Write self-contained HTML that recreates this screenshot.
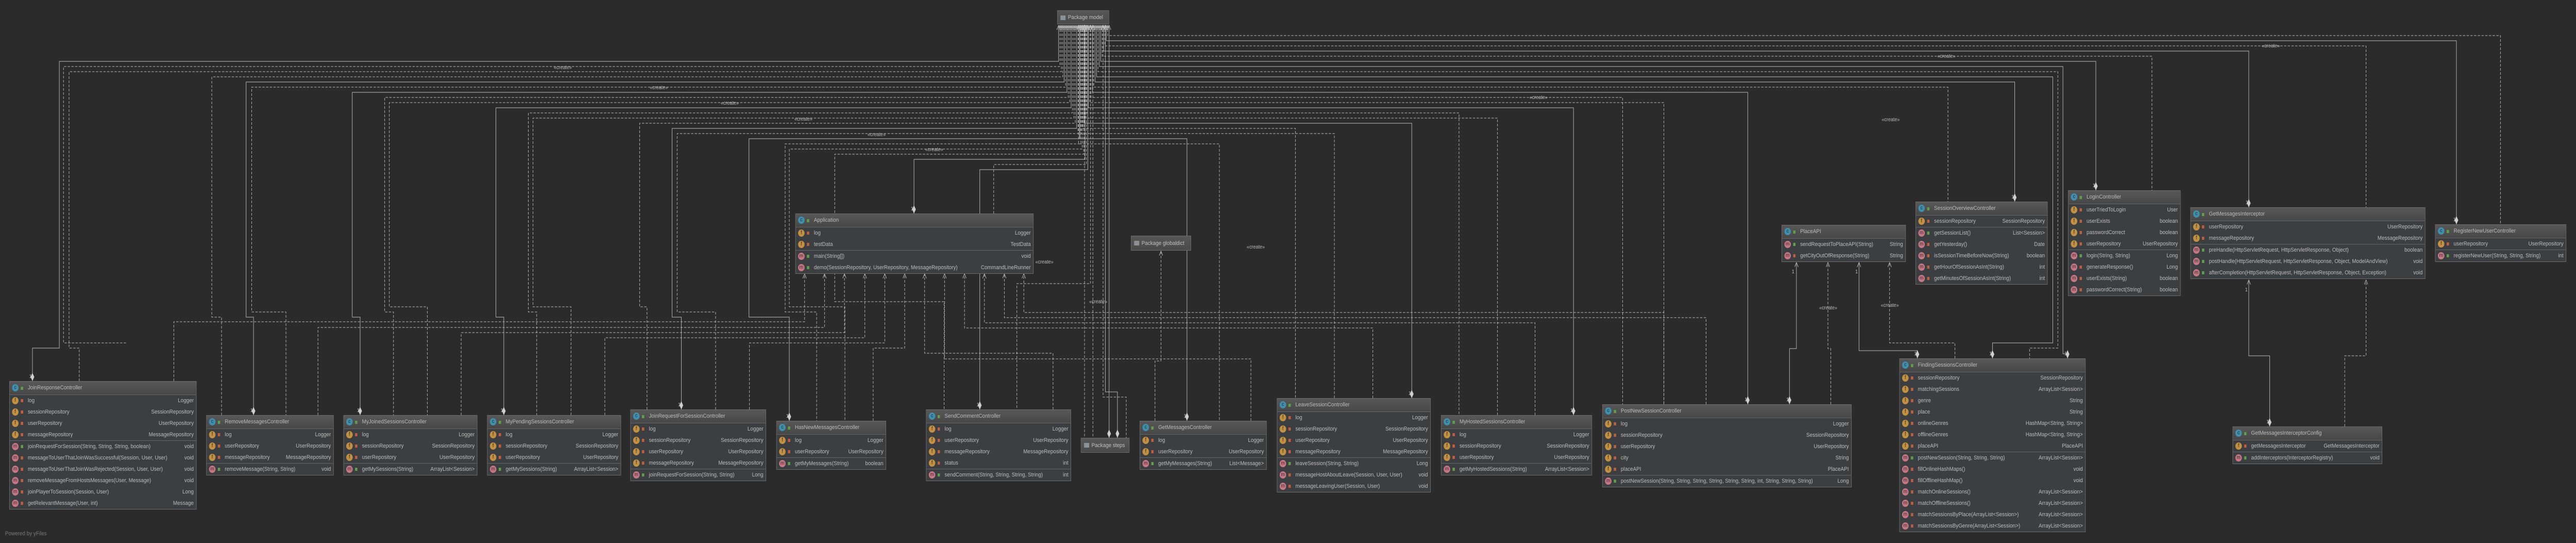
<!DOCTYPE html>
<html><head><meta charset="utf-8">
<style>
html,body{margin:0;padding:0;background:#2b2b2b;width:100vw;height:100vh;overflow:hidden;}
svg.outer{position:fixed;left:0;top:0;width:100vw;height:100vh;display:block;}
#root{position:relative;width:5558px;height:1053px;overflow:hidden;font-family:"Liberation Sans",sans-serif;background:#2b2b2b;}
svg.w{position:absolute;left:0;top:0;}
.b{position:absolute;background:#3c3f41;border:1px solid #6b6b6b;box-sizing:border-box;font-size:11px;color:#bbbbbb;overflow:hidden;}
.h{height:25px;line-height:25px;background:linear-gradient(#585858,#474747);border-bottom:1px solid #666;position:relative;padding-left:39px;white-space:nowrap;}
.s{border-bottom:1px solid #666;}
.s:last-child{border-bottom:none;}
.r{height:22px;line-height:22px;position:relative;padding-left:39px;white-space:nowrap;overflow:hidden;}
.t{position:absolute;right:5px;top:0;background:#3c3f41;padding-left:4px;}
.i{position:absolute;left:5px;top:4px;width:14px;height:14px;border-radius:50%;font-size:10px;line-height:14px;text-align:center;color:#2b2b2b;}
.h .i{top:5px;}
.c{background:#3f8fae;}.f{background:#c2903f;}.m{background:#c87684;}
.l{position:absolute;left:24px;top:8px;width:5px;height:6px;background:#c35d3c;}
.h .l{top:10px;}
.p{background:#5e9f48;}
.pk{position:absolute;background:linear-gradient(#575757,#4a4a4a);border:1px solid #6b6b6b;box-sizing:border-box;color:#c0c0c0;font-size:11px;white-space:nowrap;padding-left:22px;overflow:hidden;}
.pk:before{content:"";position:absolute;left:6px;top:9px;width:11px;height:9px;background:#8a9298;}
.cr{font-size:10px;fill:#bbbbbb;font-family:"Liberation Sans",sans-serif;}
</style></head><body>
<svg class="outer" viewBox="0 0 5558 1053" preserveAspectRatio="none" xmlns="http://www.w3.org/2000/svg">
<foreignObject x="0" y="0" width="5558" height="1053">
<div xmlns="http://www.w3.org/1999/xhtml" id="root">
<svg class="w" width="5558" height="1053" xmlns="http://www.w3.org/2000/svg">
<defs>
<marker id="a" viewBox="0 0 10 8" refX="9" refY="4" markerWidth="10" markerHeight="8" markerUnits="userSpaceOnUse" orient="auto-start-reverse"><path d="M0,0 L9,4 L0,8" fill="none" stroke="#bdbdbd" stroke-width="1"/></marker>
<marker id="d" viewBox="0 0 16 8" refX="16" refY="4" markerWidth="16" markerHeight="8" markerUnits="userSpaceOnUse" orient="auto"><path d="M0,4 L8,0 L16,4 L8,8Z" fill="#cfcfcf"/></marker>
<marker id="ds" viewBox="0 0 16 8" refX="0" refY="4" markerWidth="16" markerHeight="8" markerUnits="userSpaceOnUse" orient="auto"><path d="M0,4 L8,0 L16,4 L8,8Z" fill="#cfcfcf"/></marker>
</defs>
<g fill="none" stroke="#bdbdbd" stroke-width="1">
<g marker-start="url(#a)" marker-end="url(#d)">
<path d="M2284,49 V119 H128 V675 H70 V739"/>
<path d="M2296,49 V159 H531 V615 H547 V805"/>
<path d="M2302,49 V179 H760 V615 H777 V805"/>
<path d="M2311,49 V209 H1070 V615 H1087 V805"/>
<path d="M2323,49 V249 H1450 V615 H1470 V794"/>
<path d="M2329,49 V269 H1616 V615 H1703 V816"/>
<path d="M2341,49 V309 H1972 V414"/>
<path d="M2347,49 V329 H2114 V794"/>
<path d="M2393,49 V849"/>
<path d="M2385,49 V760 H2411 V849"/>
<path d="M2387,49 V79 H5300 V435"/>
<path d="M2381,49 V99 H4852 V402"/>
<path d="M2375,49 V119 H4522 V369"/>
<path d="M2372,49 V129 H4451 V686 H4461 V695"/>
<path d="M2366,49 V149 H4429 V665 H4299 V695"/>
<path d="M2363,49 V159 H4347 V391"/>
<path d="M2357,49 V179 H3771 V784"/>
<path d="M2348,49 V209 H3395 V805"/>
<path d="M2339,49 V239 H3046 V772"/>
<path d="M2330,49 V269 H2561 V816"/>
</g>
<g stroke-dasharray="5,3" marker-start="url(#a)">
<path d="M2287,49 V129 H137 V665 H273"/>
<path d="M2290,49 V139 H149 V675 H171 V739"/>
<path d="M2293,49 V149 H457 V615 H478 V805"/>
<path d="M2299,49 V169 H543 V605 H617 V805"/>
<path d="M2305,49 V189 H830 V605 H849 V805"/>
<path d="M2308,49 V199 H840 V595 H922 V805"/>
<path d="M2314,49 V219 H1140 V605 H1158 V805"/>
<path d="M2317,49 V229 H1150 V595 H1232 V805"/>
<path d="M2320,49 V239 H1380 V595 H1396 V794"/>
<path d="M2326,49 V259 H1461 V605 H1544 V794"/>
<path d="M2332,49 V279 H1694 V605 H1762 V816"/>
<path d="M2335,49 V289 H1703 V595 H1823 V816"/>
<path d="M2338,49 V299 H1801 V585 H2037 V794"/>
<path d="M2344,49 V319 H2144 V414"/>
<path d="M2340,49 V849"/>
<path d="M2358,49 V849"/>
<path d="M2380,49 V770 H2430 V849"/>
<path d="M2353,49 V550 H2194 V794"/>
<path d="M2390,49 V69 H5395 V435"/>
<path d="M2384,49 V89 H5105 V402"/>
<path d="M2378,49 V109 H4643 V369"/>
<path d="M2369,49 V139 H4440 V675 H4379 V695"/>
<path d="M2360,49 V169 H4203 V391"/>
<path d="M2354,49 V189 H3501 V784"/>
<path d="M2351,49 V199 H3590 V784"/>
<path d="M2345,49 V219 H3148 V805"/>
<path d="M2342,49 V229 H3231 V805"/>
<path d="M2336,49 V249 H2795 V772"/>
<path d="M2333,49 V259 H2879 V772"/>
<path d="M2327,49 V279 H2631 V816"/>
</g>
<g stroke-dasharray="5,3" marker-end="url(#a)">
<path d="M375,739 V624 H1736 V531"/>
<path d="M686,805 V635 H1779 V531"/>
<path d="M995,805 V645 H1822 V531"/>
<path d="M1305,805 V655 H1866 V531"/>
<path d="M1617,794 V665 H1909 V531"/>
<path d="M1884,816 V675 H1952 V531"/>
<path d="M2272,794 V685 H1995 V531"/>
<path d="M2699,816 V696 H2038 V531"/>
<path d="M2962,772 V636 H2081 V531"/>
<path d="M3312,805 V626 H2124 V531"/>
<path d="M3681,784 V616 H2167 V531"/>
<path d="M3590,784 V606 H2209 V531"/>
<path d="M2492,816 V700 H2505 V487"/>
<path d="M3950,784 V676 H3944 V509"/>
<path d="M4218,695 V665 H4077 V509"/>
<path d="M5059,827 V690 H5105 V543"/>
</g>
<g marker-start="url(#ds)" marker-end="url(#a)">
<path d="M3861,784 V676 H3876 V509"/>
<path d="M4137,695 V680 H4011 V509"/>
<path d="M4897,827 V690 H4852 V543"/>
</g>
</g>
<g class="cr">
<text x="1195" y="134">«create»</text>
<text x="1402" y="173">«create»</text>
<text x="1555" y="203">«create»</text>
<text x="1714" y="234">«create»</text>
<text x="1872" y="264">«create»</text>
<text x="1996" y="293">«create»</text>
<text x="4880" y="92">«create»</text>
<text x="4180" y="112">«create»</text>
<text x="3300" y="192">«create»</text>
<text x="2690" y="482">«create»</text>
<text x="2234" y="511">«create»</text>
<text x="2350" y="588">«create»</text>
<text x="4058" y="595">«create»</text>
<text x="3925" y="600">«create»</text>
<text x="4060" y="235">«create»</text>
</g>
<g class="cr">
<text x="63" y="733">1</text><text x="540" y="799">1</text><text x="770" y="799">1</text><text x="1080" y="799">1</text>
<text x="1463" y="788">1</text><text x="1696" y="810">1</text><text x="2107" y="788">1</text><text x="2554" y="810">1</text>
<text x="3039" y="766">1</text><text x="3388" y="799">1</text><text x="3764" y="778">1</text><text x="3854" y="778">1</text>
<text x="4130" y="689">1</text><text x="4292" y="689">1</text><text x="4454" y="689">1</text><text x="4890" y="821">1</text>
<text x="4340" y="385">1</text><text x="4515" y="363">1</text><text x="4845" y="396">1</text><text x="5293" y="429">1</text>
<text x="1965" y="408">1</text><text x="3866" y="530">1</text><text x="4003" y="530">1</text><text x="4844" y="565">1</text>
</g>
</svg>

<div class="pk" style="left:2281px;top:20px;width:112px;height:27px;line-height:26px;">Package model</div>
<div class="pk" style="left:2440px;top:457px;width:130px;height:29px;line-height:28px;">Package globaldict</div>
<div class="pk" style="left:2332px;top:849px;width:105px;height:29px;line-height:28px;">Package steps</div>

<div class="b" style="left:1716px;top:414px;width:514px;">
<div class="h"><span class="i c">c</span><span class="l p"></span>Application</div>
<div class="s"><div class="r"><span class="i f">f</span><span class="l"></span>log<span class="t">Logger</span></div><div class="r"><span class="i f">f</span><span class="l"></span>testData<span class="t">TestData</span></div></div>
<div class="s"><div class="r"><span class="i m">m</span><span class="l p"></span>main(String[])<span class="t">void</span></div><div class="r"><span class="i m">m</span><span class="l p"></span>demo(SessionRepository, UserRepository, MessageRepository)<span class="t">CommandLineRunner</span></div></div>
</div>

<div class="b" style="left:20px;top:739px;width:404px;">
<div class="h"><span class="i c">c</span><span class="l p"></span>JoinResponseController</div>
<div class="s">
<div class="r"><span class="i f">f</span><span class="l"></span>log<span class="t">Logger</span></div>
<div class="r"><span class="i f">f</span><span class="l"></span>sessionRepository<span class="t">SessionRepository</span></div>
<div class="r"><span class="i f">f</span><span class="l"></span>userRepository<span class="t">UserRepository</span></div>
<div class="r"><span class="i f">f</span><span class="l"></span>messageRepository<span class="t">MessageRepository</span></div></div>
<div class="s">
<div class="r"><span class="i m">m</span><span class="l p"></span>joinRequestForSession(String, String, String, boolean)<span class="t">void</span></div>
<div class="r"><span class="i m">m</span><span class="l"></span>messageToUserThatJoinWasSuccessful(Session, User, User)<span class="t">void</span></div>
<div class="r"><span class="i m">m</span><span class="l"></span>messageToUserThatJoinWasRejected(Session, User, User)<span class="t">void</span></div>
<div class="r"><span class="i m">m</span><span class="l"></span>removeMessageFromHostsMessages(User, Message)<span class="t">void</span></div>
<div class="r"><span class="i m">m</span><span class="l"></span>joinPlayerToSession(Session, User)<span class="t">Long</span></div>
<div class="r"><span class="i m">m</span><span class="l"></span>getRelevantMessage(User, int)<span class="t">Message</span></div></div>
</div>

<div class="b" style="left:445px;top:805px;width:275px;">
<div class="h"><span class="i c">c</span><span class="l p"></span>RemoveMessagesController</div>
<div class="s">
<div class="r"><span class="i f">f</span><span class="l"></span>log<span class="t">Logger</span></div>
<div class="r"><span class="i f">f</span><span class="l"></span>userRepository<span class="t">UserRepository</span></div>
<div class="r"><span class="i f">f</span><span class="l"></span>messageRepository<span class="t">MessageRepository</span></div></div>
<div class="s"><div class="r"><span class="i m">m</span><span class="l p"></span>removeMessage(String, String)<span class="t">void</span></div></div>
</div>

<div class="b" style="left:741px;top:805px;width:289px;">
<div class="h"><span class="i c">c</span><span class="l p"></span>MyJoinedSessionsController</div>
<div class="s">
<div class="r"><span class="i f">f</span><span class="l"></span>log<span class="t">Logger</span></div>
<div class="r"><span class="i f">f</span><span class="l"></span>sessionRepository<span class="t">SessionRepository</span></div>
<div class="r"><span class="i f">f</span><span class="l"></span>userRepository<span class="t">UserRepository</span></div></div>
<div class="s"><div class="r"><span class="i m">m</span><span class="l p"></span>getMySessions(String)<span class="t">ArrayList&lt;Session&gt;</span></div></div>
</div>

<div class="b" style="left:1051px;top:805px;width:289px;">
<div class="h"><span class="i c">c</span><span class="l p"></span>MyPendingSessionsController</div>
<div class="s">
<div class="r"><span class="i f">f</span><span class="l"></span>log<span class="t">Logger</span></div>
<div class="r"><span class="i f">f</span><span class="l"></span>sessionRepository<span class="t">SessionRepository</span></div>
<div class="r"><span class="i f">f</span><span class="l"></span>userRepository<span class="t">UserRepository</span></div></div>
<div class="s"><div class="r"><span class="i m">m</span><span class="l p"></span>getMySessions(String)<span class="t">ArrayList&lt;Session&gt;</span></div></div>
</div>

<div class="b" style="left:1360px;top:794px;width:293px;">
<div class="h"><span class="i c">c</span><span class="l p"></span>JoinRequestForSessionController</div>
<div class="s">
<div class="r"><span class="i f">f</span><span class="l"></span>log<span class="t">Logger</span></div>
<div class="r"><span class="i f">f</span><span class="l"></span>sessionRepository<span class="t">SessionRepository</span></div>
<div class="r"><span class="i f">f</span><span class="l"></span>userRepository<span class="t">UserRepository</span></div>
<div class="r"><span class="i f">f</span><span class="l"></span>messageRepository<span class="t">MessageRepository</span></div></div>
<div class="s"><div class="r"><span class="i m">m</span><span class="l p"></span>joinRequestForSession(String, String)<span class="t">Long</span></div></div>
</div>

<div class="b" style="left:1675px;top:816px;width:237px;">
<div class="h"><span class="i c">c</span><span class="l p"></span>HasNewMessagesController</div>
<div class="s">
<div class="r"><span class="i f">f</span><span class="l"></span>log<span class="t">Logger</span></div>
<div class="r"><span class="i f">f</span><span class="l"></span>userRepository<span class="t">UserRepository</span></div></div>
<div class="s"><div class="r"><span class="i m">m</span><span class="l p"></span>getMyMessages(String)<span class="t">boolean</span></div></div>
</div>

<div class="b" style="left:1998px;top:794px;width:313px;">
<div class="h"><span class="i c">c</span><span class="l p"></span>SendCommentController</div>
<div class="s">
<div class="r"><span class="i f">f</span><span class="l"></span>log<span class="t">Logger</span></div>
<div class="r"><span class="i f">f</span><span class="l"></span>userRepository<span class="t">UserRepository</span></div>
<div class="r"><span class="i f">f</span><span class="l"></span>messageRepository<span class="t">MessageRepository</span></div>
<div class="r"><span class="i f">f</span><span class="l"></span>status<span class="t">int</span></div></div>
<div class="s"><div class="r"><span class="i m">m</span><span class="l p"></span>sendComment(String, String, String, String)<span class="t">int</span></div></div>
</div>

<div class="b" style="left:2459px;top:816px;width:274px;">
<div class="h"><span class="i c">c</span><span class="l p"></span>GetMessagesController</div>
<div class="s">
<div class="r"><span class="i f">f</span><span class="l"></span>log<span class="t">Logger</span></div>
<div class="r"><span class="i f">f</span><span class="l"></span>userRepository<span class="t">UserRepository</span></div></div>
<div class="s"><div class="r"><span class="i m">m</span><span class="l p"></span>getMyMessages(String)<span class="t">List&lt;Message&gt;</span></div></div>
</div>

<div class="b" style="left:2755px;top:772px;width:332px;">
<div class="h"><span class="i c">c</span><span class="l p"></span>LeaveSessionController</div>
<div class="s">
<div class="r"><span class="i f">f</span><span class="l"></span>log<span class="t">Logger</span></div>
<div class="r"><span class="i f">f</span><span class="l"></span>sessionRepository<span class="t">SessionRepository</span></div>
<div class="r"><span class="i f">f</span><span class="l"></span>userRepository<span class="t">UserRepository</span></div>
<div class="r"><span class="i f">f</span><span class="l"></span>messageRepository<span class="t">MessageRepository</span></div></div>
<div class="s">
<div class="r"><span class="i m">m</span><span class="l p"></span>leaveSession(String, String)<span class="t">Long</span></div>
<div class="r"><span class="i m">m</span><span class="l"></span>messageHostAboutLeave(Session, User, User)<span class="t">void</span></div>
<div class="r"><span class="i m">m</span><span class="l"></span>messageLeavingUser(Session, User)<span class="t">void</span></div></div>
</div>

<div class="b" style="left:3109px;top:805px;width:326px;">
<div class="h"><span class="i c">c</span><span class="l p"></span>MyHostedSessionsController</div>
<div class="s">
<div class="r"><span class="i f">f</span><span class="l"></span>log<span class="t">Logger</span></div>
<div class="r"><span class="i f">f</span><span class="l"></span>sessionRepository<span class="t">SessionRepository</span></div>
<div class="r"><span class="i f">f</span><span class="l"></span>userRepository<span class="t">UserRepository</span></div></div>
<div class="s"><div class="r"><span class="i m">m</span><span class="l p"></span>getMyHostedSessions(String)<span class="t">ArrayList&lt;Session&gt;</span></div></div>
</div>

<div class="b" style="left:3457px;top:784px;width:538px;">
<div class="h"><span class="i c">c</span><span class="l p"></span>PostNewSessionController</div>
<div class="s">
<div class="r"><span class="i f">f</span><span class="l"></span>log<span class="t">Logger</span></div>
<div class="r"><span class="i f">f</span><span class="l"></span>sessionRepository<span class="t">SessionRepository</span></div>
<div class="r"><span class="i f">f</span><span class="l"></span>userRepository<span class="t">UserRepository</span></div>
<div class="r"><span class="i f">f</span><span class="l"></span>city<span class="t">String</span></div>
<div class="r"><span class="i f">f</span><span class="l"></span>placeAPI<span class="t">PlaceAPI</span></div></div>
<div class="s"><div class="r"><span class="i m">m</span><span class="l p"></span>postNewSession(String, String, String, String, String, String, int, String, String, String)<span class="t">Long</span></div></div>
</div>

<div class="b" style="left:3844px;top:436px;width:268px;">
<div class="h"><span class="i c">c</span><span class="l p"></span>PlaceAPI</div>
<div class="s">
<div class="r"><span class="i m">m</span><span class="l p"></span>sendRequestToPlaceAPI(String)<span class="t">String</span></div>
<div class="r"><span class="i m">m</span><span class="l"></span>getCityOutOfResponse(String)<span class="t">String</span></div></div>
</div>

<div class="b" style="left:4098px;top:695px;width:402px;">
<div class="h"><span class="i c">c</span><span class="l p"></span>FindingSessionsController</div>
<div class="s">
<div class="r"><span class="i f">f</span><span class="l"></span>sessionRepository<span class="t">SessionRepository</span></div>
<div class="r"><span class="i f">f</span><span class="l"></span>matchingSessions<span class="t">ArrayList&lt;Session&gt;</span></div>
<div class="r"><span class="i f">f</span><span class="l"></span>genre<span class="t">String</span></div>
<div class="r"><span class="i f">f</span><span class="l"></span>place<span class="t">String</span></div>
<div class="r"><span class="i f">f</span><span class="l"></span>onlineGenres<span class="t">HashMap&lt;String, String&gt;</span></div>
<div class="r"><span class="i f">f</span><span class="l"></span>offlineGenres<span class="t">HashMap&lt;String, String&gt;</span></div>
<div class="r"><span class="i f">f</span><span class="l"></span>placeAPI<span class="t">PlaceAPI</span></div></div>
<div class="s">
<div class="r"><span class="i m">m</span><span class="l p"></span>postNewSession(String, String, String)<span class="t">ArrayList&lt;Session&gt;</span></div>
<div class="r"><span class="i m">m</span><span class="l"></span>fillOnlineHashMaps()<span class="t">void</span></div>
<div class="r"><span class="i m">m</span><span class="l"></span>fillOfflineHashMap()<span class="t">void</span></div>
<div class="r"><span class="i m">m</span><span class="l"></span>matchOnlineSessions()<span class="t">ArrayList&lt;Session&gt;</span></div>
<div class="r"><span class="i m">m</span><span class="l"></span>matchOfflineSessions()<span class="t">ArrayList&lt;Session&gt;</span></div>
<div class="r"><span class="i m">m</span><span class="l"></span>matchSessionsByPlace(ArrayList&lt;Session&gt;)<span class="t">ArrayList&lt;Session&gt;</span></div>
<div class="r"><span class="i m">m</span><span class="l"></span>matchSessionsByGenre(ArrayList&lt;Session&gt;)<span class="t">ArrayList&lt;Session&gt;</span></div></div>
</div>

<div class="b" style="left:4133px;top:391px;width:285px;">
<div class="h"><span class="i c">c</span><span class="l p"></span>SessionOverviewController</div>
<div class="s"><div class="r"><span class="i f">f</span><span class="l"></span>sessionRepository<span class="t">SessionRepository</span></div></div>
<div class="s">
<div class="r"><span class="i m">m</span><span class="l p"></span>getSessionList()<span class="t">List&lt;Session&gt;</span></div>
<div class="r"><span class="i m">m</span><span class="l"></span>getYesterday()<span class="t">Date</span></div>
<div class="r"><span class="i m">m</span><span class="l"></span>isSessionTimeBeforeNow(String)<span class="t">boolean</span></div>
<div class="r"><span class="i m">m</span><span class="l"></span>getHourOfSessionAsInt(String)<span class="t">int</span></div>
<div class="r"><span class="i m">m</span><span class="l"></span>getMinutesOfSessionAsInt(String)<span class="t">int</span></div></div>
</div>

<div class="b" style="left:4462px;top:369px;width:243px;">
<div class="h"><span class="i c">c</span><span class="l p"></span>LoginController</div>
<div class="s">
<div class="r"><span class="i f">f</span><span class="l"></span>userTriedToLogin<span class="t">User</span></div>
<div class="r"><span class="i f">f</span><span class="l"></span>userExists<span class="t">boolean</span></div>
<div class="r"><span class="i f">f</span><span class="l"></span>passwordCorrect<span class="t">boolean</span></div>
<div class="r"><span class="i f">f</span><span class="l"></span>userRepository<span class="t">UserRepository</span></div></div>
<div class="s">
<div class="r"><span class="i m">m</span><span class="l p"></span>login(String, String)<span class="t">Long</span></div>
<div class="r"><span class="i m">m</span><span class="l"></span>generateResponse()<span class="t">Long</span></div>
<div class="r"><span class="i m">m</span><span class="l"></span>userExists(String)<span class="t">boolean</span></div>
<div class="r"><span class="i m">m</span><span class="l"></span>passwordCorrect(String)<span class="t">boolean</span></div></div>
</div>

<div class="b" style="left:4726px;top:402px;width:507px;">
<div class="h"><span class="i c">c</span><span class="l p"></span>GetMessagesInterceptor</div>
<div class="s">
<div class="r"><span class="i f">f</span><span class="l"></span>userRepository<span class="t">UserRepository</span></div>
<div class="r"><span class="i f">f</span><span class="l"></span>messageRepository<span class="t">MessageRepository</span></div></div>
<div class="s">
<div class="r"><span class="i m">m</span><span class="l p"></span>preHandle(HttpServletRequest, HttpServletResponse, Object)<span class="t">boolean</span></div>
<div class="r"><span class="i m">m</span><span class="l p"></span>postHandle(HttpServletRequest, HttpServletResponse, Object, ModelAndView)<span class="t">void</span></div>
<div class="r"><span class="i m">m</span><span class="l p"></span>afterCompletion(HttpServletRequest, HttpServletResponse, Object, Exception)<span class="t">void</span></div></div>
</div>

<div class="b" style="left:5254px;top:435px;width:283px;">
<div class="h"><span class="i c">c</span><span class="l p"></span>RegisterNewUserController</div>
<div class="s"><div class="r"><span class="i f">f</span><span class="l"></span>userRepository<span class="t">UserRepository</span></div></div>
<div class="s"><div class="r"><span class="i m">m</span><span class="l p"></span>registerNewUser(String, String, String)<span class="t">int</span></div></div>
</div>

<div class="b" style="left:4817px;top:827px;width:323px;">
<div class="h"><span class="i c">c</span><span class="l p"></span>GetMessagesInterceptorConfig</div>
<div class="s"><div class="r"><span class="i f">f</span><span class="l"></span>getMessagesInterceptor<span class="t">GetMessagesInterceptor</span></div></div>
<div class="s"><div class="r"><span class="i m">m</span><span class="l p"></span>addInterceptors(InterceptorRegistry)<span class="t">void</span></div></div>
</div>

<div style="position:absolute;left:11px;top:1029px;font-size:11px;color:#777;">Powered by yFiles</div>
</div>
</foreignObject>
</svg>
</body></html>
